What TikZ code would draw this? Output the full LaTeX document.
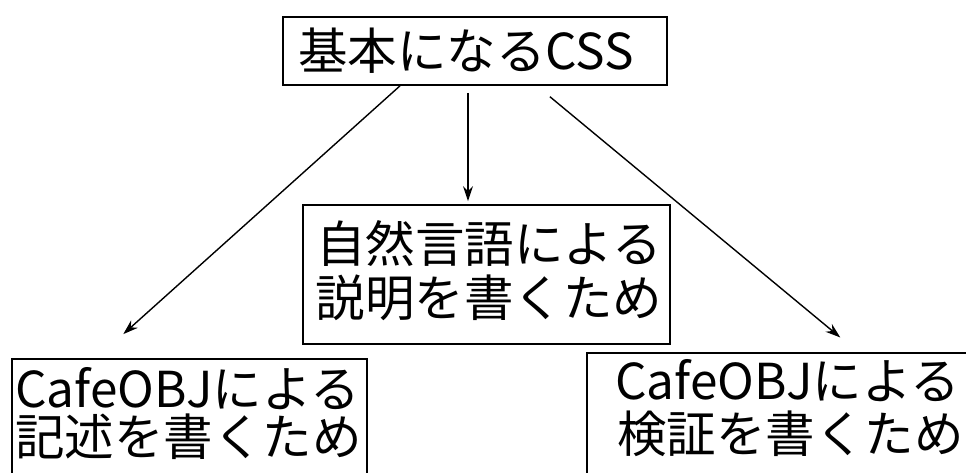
\documentclass[tikz,border=0pt]{standalone}
\usepackage{fontspec}
\setmainfont{Noto Sans CJK JP}
\usetikzlibrary{arrows.meta}
\begin{document}
\begin{tikzpicture}[x=1pt,y=-1pt,
  box/.style={draw, line width=1.7pt, rectangle, inner sep=0pt},
  lbl/.style={inner sep=0pt, font=\fontsize{49.5}{54}\selectfont},
  arr/.style={line width=1.4pt, -{Stealth[length=15pt,width=10pt]}}]
\useasboundingbox (0,0) rectangle (966,473);
\clip (0,0) rectangle (966,473);
\fill[white] (0,0) rectangle (966,473);
% boxes
\node[box, minimum width=384pt, minimum height=68pt] (top) at (475,51) {};
\node[box, minimum width=367pt, minimum height=139pt] (mbox) at (486.5,274.5) {};
\node[box, minimum width=355pt, minimum height=140pt] (lbox) at (189.5,429) {};
\node[box, minimum width=393pt, minimum height=140pt] (rbox) at (783.5,423) {};
% texts
\node[lbl] (ttop) at (466,51) {基本になるCSS};
\node[lbl, align=center] (tmid) at (489,270.5) {自然言語による\\説明を書くため};
\node[lbl, anchor=west] (tl1) at (15,389) {CafeOBJによる};
\node[lbl, anchor=west] (tl2) at (15,437) {記述を書くため};
\node[lbl, anchor=west] (tr1) at (615,381) {CafeOBJによる};
\node[lbl, anchor=west] (tr2) at (617,434) {検証を書くため};
% arrows
\draw[arr, shorten >=36pt] ([xshift=-75pt]top.south) -- ([xshift=-93pt]lbox.north);
\draw[arr, shorten <=7pt, shorten >=3pt] ([xshift=-7pt]top.south) -- ([xshift=-18.5pt]mbox.north);
\draw[arr, shorten <=17pt, shorten >=23pt] ([xshift=61.8pt]top.south) -- ([xshift=74.5pt]rbox.north);
\end{tikzpicture}
\end{document}
